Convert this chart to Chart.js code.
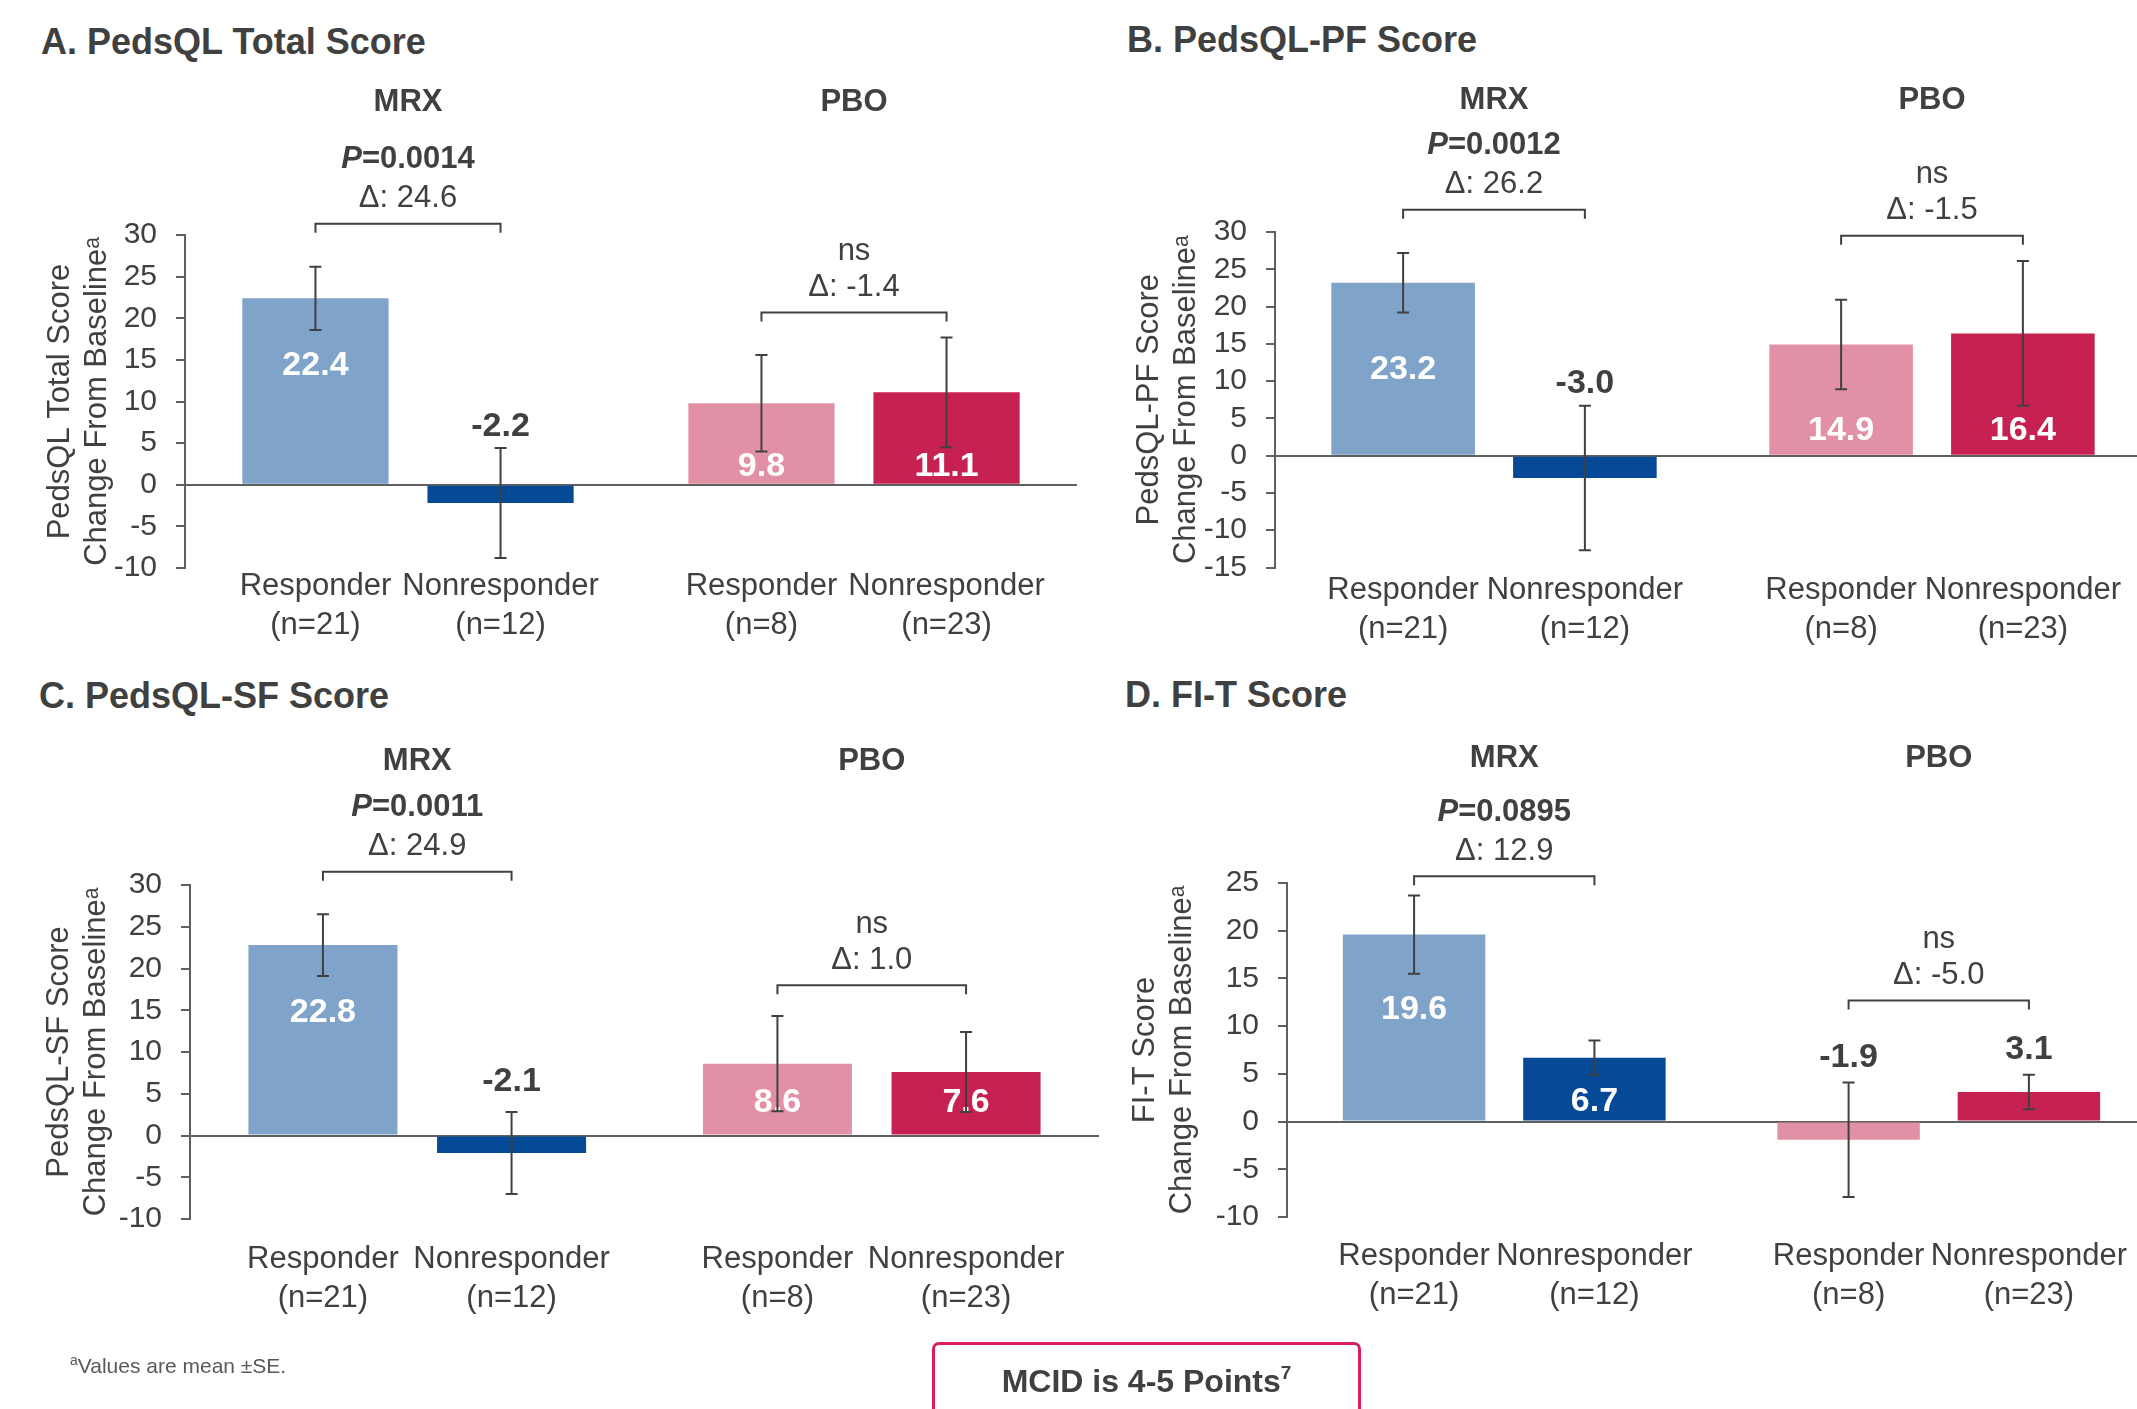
<!DOCTYPE html>
<html>
<head>
<meta charset="utf-8">
<title>PedsQL and FI-T change by responder status</title>
<script src="https://cdn.jsdelivr.net/npm/chart.js@4.4.1/dist/chart.umd.min.js"></script>
<style>
  html, body { margin: 0; padding: 0; background: #fff; }
  body { position: relative; width: 2137px; height: 1409px; overflow: hidden;
         font-family: "Liberation Sans", Arial, sans-serif; color: #404040; }
  canvas { position: absolute; }
  .panel-title { position: absolute; margin: 0; font-size: 36px; line-height: 36px;
                 font-weight: bold; white-space: nowrap; }
  .footnote { position: absolute; left: 70px; top: 1355px; font-size: 21px; line-height: 21px;
              color: #595959; white-space: nowrap; }
  .footnote sup { font-size: 14px; vertical-align: 8px; line-height: 0; }
  .mcid { position: absolute; left: 932px; top: 1342px; width: 429px; height: 110px;
          box-sizing: border-box; border: 3px solid #dc1f5b; border-radius: 7px;
          padding-top: 20px; text-align: center; font-size: 32px; line-height: 32px;
          font-weight: bold; white-space: nowrap; }
  .mcid sup { font-size: 19px; vertical-align: 13px; line-height: 0; }
</style>
</head>
<body>

<h2 class="panel-title" style="left:41px; top:24px;">A. PedsQL Total Score</h2>
<h2 class="panel-title" style="left:1127px; top:22px;">B. PedsQL-PF Score</h2>
<h2 class="panel-title" style="left:39px; top:678px;">C. PedsQL-SF Score</h2>
<h2 class="panel-title" style="left:1125px; top:677px;">D. FI-T Score</h2>

<canvas id="chartA" width="1090" height="660" style="left:0; top:0;"></canvas>
<canvas id="chartB" width="1070" height="660" style="left:1090px; top:0;"></canvas>
<canvas id="chartC" width="1110" height="749" style="left:0; top:660px;"></canvas>
<canvas id="chartD" width="1058" height="749" style="left:1102px; top:660px;"></canvas>

<div class="footnote"><sup>a</sup>Values are mean ±SE.</div>
<div class="mcid">MCID is 4-5 Points<sup>7</sup></div>

<script>
// arms and subgroups, shared by all four panels
const groups = ['MRX', 'PBO'];
const subgroups = ['Responder', 'Nonresponder'];
const respN = [21, 8];
const nonrespN = [12, 23];

// A. PedsQL Total Score  (each array is [MRX, PBO])
const totalResp = [22.4, 9.8];
const totalRespSE = [3.8, 5.8];
const totalNonresp = [-2.2, 11.1];
const totalNonrespSE = [6.6, 6.6];
const totalP = ['0.0014', 'ns'];
const totalDelta = ['24.6', '-1.4'];
const totalTicks = [-10, -5, 0, 5, 10, 15, 20, 25, 30];

// B. PedsQL-PF Score
const pfResp = [23.2, 14.9];
const pfRespSE = [4.0, 6.0];
const pfNonresp = [-3.0, 16.4];
const pfNonrespSE = [9.7, 9.7];
const pfP = ['0.0012', 'ns'];
const pfDelta = ['26.2', '-1.5'];
const pfTicks = [-15, -10, -5, 0, 5, 10, 15, 20, 25, 30];

// C. PedsQL-SF Score
const sfResp = [22.8, 8.6];
const sfRespSE = [3.7, 5.7];
const sfNonresp = [-2.1, 7.6];
const sfNonrespSE = [4.9, 4.8];
const sfP = ['0.0011', 'ns'];
const sfDelta = ['24.9', '1.0'];
const sfTicks = [-10, -5, 0, 5, 10, 15, 20, 25, 30];

// D. FI-T Score
const fitResp = [19.6, -1.9];
const fitRespSE = [4.1, 6.0];
const fitNonresp = [6.7, 3.1];
const fitNonrespSE = [1.8, 1.8];
const fitP = ['0.0895', 'ns'];
const fitDelta = ['12.9', '-5.0'];
const fitTicks = [-10, -5, 0, 5, 10, 15, 20, 25];

// styling
const FONT = '"Liberation Sans", Arial, sans-serif';
const INK = '#404040';
const AXIS = '#5f5f5f';
const respColors = ['#7fa3c9', '#e290a6'];
const nonrespColors = ['#064a97', '#c62151'];

Chart.defaults.font.family = FONT;
Chart.defaults.color = INK;

// "P=0.0014" with an italic P, centred on cx
function drawP(ctx, value, cx, cy) {
    ctx.font = 'italic bold 31px ' + FONT;
    const w1 = ctx.measureText('P').width;
    ctx.font = 'bold 31px ' + FONT;
    const w2 = ctx.measureText('=' + value).width;
    const left = cx - (w1 + w2) / 2;
    ctx.textAlign = 'left';
    ctx.font = 'italic bold 31px ' + FONT;
    ctx.fillText('P', left, cy);
    ctx.font = 'bold 31px ' + FONT;
    ctx.fillText('=' + value, left + w1, cy);
    ctx.textAlign = 'center';
}

// headers, brackets, value labels, category labels and error bars
const annotate = {
    id: 'annotate',
    afterDatasetsDraw(chart, args, o) {
        const { ctx, chartArea: area, scales: { x, y } } = chart;
        const resp = chart.getDatasetMeta(0).data;
        const non = chart.getDatasetMeta(1).data;
        const zero = y.getPixelForValue(0);
        ctx.save();
        ctx.textAlign = 'center';
        ctx.textBaseline = 'middle';
        ctx.fillStyle = INK;
        ctx.strokeStyle = INK;
        ctx.lineWidth = 2;

        // arm headers
        ctx.font = 'bold 31px ' + FONT;
        groups.forEach((g, i) => ctx.fillText(g, x.getPixelForValue(i), area.top - o.headerUp));

        // brackets with P value and difference
        groups.forEach((g, i) => {
            const x1 = resp[i].x, x2 = non[i].x;
            const yb = y.getPixelForValue(o.bracketAt[i]);
            ctx.beginPath();
            ctx.moveTo(x1, yb + 9);
            ctx.lineTo(x1, yb);
            ctx.lineTo(x2, yb);
            ctx.lineTo(x2, yb + 9);
            ctx.stroke();
            const cx = (x1 + x2) / 2;
            if (o.pValues[i] === 'ns') {
                ctx.font = '31px ' + FONT;
                ctx.fillText('ns', cx, yb - 61);
            } else {
                drawP(ctx, o.pValues[i], cx, yb - 64);
            }
            ctx.font = '31px ' + FONT;
            ctx.fillText('Δ: ' + o.deltas[i], cx, yb - 25);
        });

        // subgroup labels under the bars
        ctx.font = '31px ' + FONT;
        [resp, non].forEach((bars, di) => bars.forEach((bar, i) => {
            const n = di === 0 ? respN[i] : nonrespN[i];
            ctx.fillText(subgroups[di], bar.x, area.bottom + o.catDown);
            ctx.fillText('(n=' + n + ')', bar.x, area.bottom + o.catDown + 39);
        }));

        // value labels
        ctx.font = 'bold 34px ' + FONT;
        chart.data.datasets.forEach((ds, di) => {
            chart.getDatasetMeta(di).data.forEach((bar, i) => {
                const v = ds.data[i], se = ds.se[i];
                const inside = v > 5;
                let ly;
                if (!inside) ly = y.getPixelForValue(v + se) - o.outGap;
                else if (v > 18) ly = y.getPixelForValue(v * o.tallFrac);
                else ly = zero - o.lowUp;
                ctx.fillStyle = inside ? '#ffffff' : INK;
                ctx.fillText(v.toFixed(1), bar.x, ly);
            });
        });

        // error bars (mean ± SE)
        chart.data.datasets.forEach((ds, di) => {
            chart.getDatasetMeta(di).data.forEach((bar, i) => {
                const top = y.getPixelForValue(ds.data[i] + ds.se[i]);
                const bot = y.getPixelForValue(ds.data[i] - ds.se[i]);
                ctx.beginPath();
                ctx.moveTo(bar.x, top); ctx.lineTo(bar.x, bot);
                ctx.moveTo(bar.x - 6, top); ctx.lineTo(bar.x + 6, top);
                ctx.moveTo(bar.x - 6, bot); ctx.lineTo(bar.x + 6, bot);
                ctx.stroke();
            });
        });
        ctx.restore();
    }
};

function makeChart(id, p) {
    return new Chart(document.getElementById(id), {
        type: 'bar',
        data: {
            labels: groups,
            datasets: [
                { label: subgroups[0], data: p.resp, se: p.respSE, backgroundColor: respColors,
                  categoryPercentage: 0.83, barPercentage: 0.79 },
                { label: subgroups[1], data: p.nonresp, se: p.nonrespSE, backgroundColor: nonrespColors,
                  categoryPercentage: 0.83, barPercentage: 0.79 }
            ]
        },
        options: {
            responsive: false,
            animation: false,
            layout: { padding: { left: 0, top: p.pad.top, right: p.pad.right, bottom: p.pad.bottom } },
            plugins: {
                legend: { display: false },
                tooltip: { enabled: false },
                annotate: p.notes
            },
            scales: {
                x: { display: false },
                y: {
                    min: p.ticks[0],
                    max: p.ticks[p.ticks.length - 1],
                    afterBuildTicks: s => { s.ticks = p.ticks.map(v => ({ value: v })); },
                    afterFit: s => { s.width = p.axisW; },
                    border: { color: AXIS, width: 2 },
                    grid: {
                        color: c => (c.tick && c.tick.value === 0) ? AXIS : 'rgba(0,0,0,0)',
                        lineWidth: 2,
                        tickLength: 9,
                        tickColor: AXIS,
                        tickWidth: 2
                    },
                    ticks: { color: INK, font: { size: 30 }, padding: 19, autoSkip: false },
                    title: {
                        display: true,
                        text: p.yTitle,
                        color: INK,
                        font: { size: 31, lineHeight: 1.2 },
                        padding: { top: p.titlePad, bottom: 0 }
                    }
                }
            }
        },
        plugins: [annotate]
    });
}

makeChart('chartA', {
    resp: totalResp, respSE: totalRespSE, nonresp: totalNonresp, nonrespSE: totalNonrespSE,
    ticks: totalTicks, yTitle: ['PedsQL Total Score', 'Change From Baselineᵃ'],
    axisW: 185, titlePad: 42, pad: { top: 235, right: 13, bottom: 92 },
    notes: { pValues: totalP, deltas: totalDelta, bracketAt: [31.35, 20.7],
             headerUp: 133, catDown: 18, tallFrac: 0.64, lowUp: 18, outGap: 21 }
});

makeChart('chartB', {
    resp: pfResp, respSE: pfRespSE, nonresp: pfNonresp, nonrespSE: pfNonrespSE,
    ticks: pfTicks, yTitle: ['PedsQL-PF Score', 'Change From Baselineᵃ'],
    axisW: 185, titlePad: 41, pad: { top: 232, right: 9, bottom: 92.5 },
    notes: { pValues: pfP, deltas: pfDelta, bracketAt: [33.0, 29.5],
             headerUp: 132, catDown: 23, tallFrac: 0.5, lowUp: 25, outGap: 22 }
});

makeChart('chartC', {
    resp: sfResp, respSE: sfRespSE, nonresp: sfNonresp, nonrespSE: sfNonrespSE,
    ticks: sfTicks, yTitle: ['PedsQL-SF Score', 'Change From Baselineᵃ'],
    axisW: 190, titlePad: 41, pad: { top: 225, right: 11, bottom: 190 },
    notes: { pValues: sfP, deltas: sfDelta, bracketAt: [31.6, 18.0],
             headerUp: 124, catDown: 40, tallFrac: 0.645, lowUp: 33, outGap: 30 }
});

makeChart('chartD', {
    resp: fitResp, respSE: fitRespSE, nonresp: fitNonresp, nonrespSE: fitNonrespSE,
    ticks: fitTicks, yTitle: ['FI-T Score', 'Change From Baselineᵃ'],
    axisW: 185, titlePad: 25, pad: { top: 223, right: 4, bottom: 192 },
    notes: { pValues: fitP, deltas: fitDelta, bracketAt: [25.7, 12.7],
             headerUp: 125, catDown: 39, tallFrac: 0.60, lowUp: 20, outGap: 25 }
});
</script>
</body>
</html>
